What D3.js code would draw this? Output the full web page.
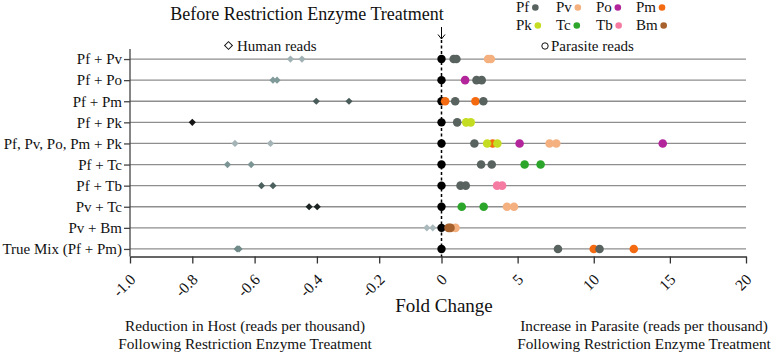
<!DOCTYPE html>
<html>
<head>
<meta charset="utf-8">
<script src="https://cdn.jsdelivr.net/npm/d3@7"></script>
<style>
  body { margin: 0; background: #fff; }
  svg { font-family: "Liberation Serif", "Times New Roman", serif; }
</style>
</head>
<body>
<svg id="chart" width="778" height="353"></svg>
<script>
const categories = ["Pf + Pv", "Pf + Po", "Pf + Pm", "Pf + Pk", "Pf, Pv, Po, Pm + Pk",
                    "Pf + Tc", "Pf + Tb", "Pv + Tc", "Pv + Bm", "True Mix (Pf + Pm)"];

// fold change in human reads (negative side)
const humanReads = [
    [-0.485, -0.448], [-0.541, -0.528], [-0.402, -0.297], [-0.80],
    [-0.663, -0.549], [-0.687, -0.611], [-0.578, -0.541], [-0.425, -0.399],
    [-0.047, -0.028], [-0.656, -0.650]
];

// fold change in parasite reads, per species
const parasiteReads = [
    [["Pf", 0.8], ["Pf", 0.98], ["Pv", 3.06], ["Pv", 3.24]],
    [["Po", 1.55], ["Pf", 2.3], ["Pf", 2.64]],
    [["Pm", 0.24], ["Pf", 0.9], ["Pm", 2.23], ["Pf", 2.75]],
    [["Pf", 1.03], ["Pk", 1.62], ["Pk", 1.92]],
    [["Pf", 2.16], ["Pm", 3.36], ["Pk", 3.0], ["Pk", 3.67], ["Po", 5.13], ["Pv", 7.1], ["Pv", 7.54], ["Po", 14.53]],
    [["Pf", 2.6], ["Pf", 3.3], ["Tc", 5.46], ["Tc", 6.51]],
    [["Pf", 1.25], ["Pf", 1.59], ["Tb", 3.65], ["Tb", 3.98]],
    [["Tc", 1.33], ["Tc", 2.77], ["Pv", 4.3], ["Pv", 4.76]],
    [["Pv", 0.92], ["Bm", 0.46], ["Bm", 0.59]],
    [["Pf", 7.65], ["Pm", 10.0], ["Pf", 10.38], ["Pm", 12.63]]
];

const species = ["Pf", "Pv", "Po", "Pm", "Pk", "Tc", "Tb", "Bm"];
const speciesColors = ["#58625f", "#f4b07e", "#b2259b", "#f46a10", "#c4dc22", "#2ba52a", "#f57ba2", "#a7612c"];
const humanShades = ["#a0b1b4", "#809a9a", "#4a5c59", "#151515", "#a4b4b6",
                     "#7c9594", "#4c615e", "#1c2424", "#aab9bc", "#6f8a88"];

const tickValues = [-1.0, -0.8, -0.6, -0.4, -0.2, 0, 5, 10, 15, 20];
const tickLabels = ["-1.0", "-0.8", "-0.6", "-0.4", "-0.2", "0", "5", "10", "15", "20"];

const svg = d3.select("#chart");

const x = d3.scaleLinear().domain([-1, 0, 20]).range([130, 441.5, 746]);
const y = d3.scalePoint().domain(categories).range([48.5, 259.5]).padding(0.5);
const axisY = 256.5;
const color = d3.scaleOrdinal().domain(species).range(speciesColors);

// gridlines per row
svg.append("g").selectAll("line")
    .data(categories)
    .join("line")
    .attr("x1", x(-1)).attr("x2", x(20))
    .attr("y1", d => y(d)).attr("y2", d => y(d))
    .attr("stroke", "#8e8e8e")
    .attr("stroke-width", 1.3);

// left axis
const yAxis = svg.append("g")
    .attr("transform", `translate(${x(-1)},0)`)
    .call(d3.axisLeft(y).tickSize(6).tickSizeOuter(0));
yAxis.select(".domain").remove();
yAxis.append("line")
    .attr("y1", 49).attr("y2", axisY)
    .attr("stroke", "#444").attr("stroke-width", 1.3);
yAxis.selectAll(".tick line").attr("stroke", "#444").attr("stroke-width", 1.3);
yAxis.selectAll("text")
    .attr("x", -8)
    .style("font-size", "15px")
    .style("font-family", "Liberation Serif")
    .attr("fill", "#111");

// bottom axis
const xAxis = svg.append("g")
    .attr("transform", `translate(0,${axisY})`)
    .call(d3.axisBottom(x).tickValues(tickValues).tickSize(7).tickSizeOuter(0)
        .tickFormat((d, i) => tickLabels[i]));
xAxis.select(".domain").attr("stroke", "#333").attr("stroke-width", 1.3);
xAxis.selectAll(".tick line").attr("stroke", "#333").attr("stroke-width", 1.3);
xAxis.selectAll("text")
    .attr("y", 0).attr("dy", 0)
    .attr("text-anchor", "end")
    .attr("transform", "translate(6,24) rotate(-45)")
    .style("font-size", "15.5px")
    .style("font-family", "Liberation Serif")
    .attr("fill", "#111");

// dashed zero line and arrow
svg.append("line")
    .attr("x1", x(0)).attr("x2", x(0))
    .attr("y1", 40).attr("y2", axisY)
    .attr("stroke", "#000").attr("stroke-width", 1.5)
    .attr("stroke-dasharray", "3,2.5");
svg.append("path")
    .attr("d", `M${x(0)},27V39M${x(0) - 3.5},34.5L${x(0)},39L${x(0) + 3.5},34.5`)
    .attr("fill", "none").attr("stroke", "#000").attr("stroke-width", 1);

// human reads diamonds
const diamond = d3.symbol().type(d3.symbolSquare).size(26);
categories.forEach((cat, i) => {
    svg.append("g").selectAll("path")
        .data(humanReads[i])
        .join("path")
        .attr("d", diamond)
        .attr("transform", d => `translate(${x(d)},${y(cat)}) rotate(45)`)
        .attr("fill", humanShades[i]);
});

// before-treatment reference points at zero
svg.append("g").selectAll("circle")
    .data(categories)
    .join("circle")
    .attr("cx", x(0)).attr("cy", d => y(d))
    .attr("r", 4.2).attr("fill", "#000");

// parasite reads dots
categories.forEach((cat, i) => {
    svg.append("g").selectAll("circle")
        .data(parasiteReads[i])
        .join("circle")
        .attr("cx", d => x(d[1]))
        .attr("cy", y(cat))
        .attr("r", 4.3)
        .attr("fill", d => color(d[0]));
});

// title
svg.append("text")
    .attr("x", 307).attr("y", 20)
    .attr("text-anchor", "middle")
    .style("font-size", "18px")
    .attr("fill", "#111")
    .text("Before Restriction Enzyme Treatment");

// species legend
const legendCols = [516, 556, 596, 636];
species.forEach((s, i) => {
    const gx = legendCols[i % 4], gy = i < 4 ? 12 : 30;
    const t = svg.append("text")
        .attr("x", gx).attr("y", gy)
        .style("font-size", "15px")
        .attr("fill", "#111")
        .text(s);
    const w = t.node().getComputedTextLength();
    svg.append("circle")
        .attr("cx", gx + w + 6).attr("cy", gy - 4.5)
        .attr("r", 3.3)
        .attr("fill", color(s));
});

// reads legend
svg.append("path")
    .attr("d", d3.symbol().type(d3.symbolSquare).size(30))
    .attr("transform", "translate(228.5,45.5) rotate(45)")
    .attr("fill", "none").attr("stroke", "#111").attr("stroke-width", 1);
svg.append("text")
    .attr("x", 237).attr("y", 51)
    .style("font-size", "15px").attr("fill", "#111")
    .text("Human reads");
svg.append("circle")
    .attr("cx", 545).attr("cy", 46).attr("r", 3.2)
    .attr("fill", "none").attr("stroke", "#111").attr("stroke-width", 1);
svg.append("text")
    .attr("x", 551).attr("y", 51)
    .style("font-size", "15px").attr("fill", "#111")
    .text("Parasite reads");

// axis title and notes
svg.append("text")
    .attr("x", 444).attr("y", 312)
    .attr("text-anchor", "middle")
    .style("font-size", "19px").attr("fill", "#111")
    .text("Fold Change");

const notes = [
    { x: 245, lines: ["Reduction in Host (reads per thousand)", "Following Restriction Enzyme Treatment"] },
    { x: 644, lines: ["Increase in Parasite (reads per thousand)", "Following Restriction Enzyme Treatment"] }
];
notes.forEach(n => {
    n.lines.forEach((l, j) => {
        svg.append("text")
            .attr("x", n.x).attr("y", 331 + j * 18)
            .attr("text-anchor", "middle")
            .style("font-size", "15.3px").attr("fill", "#111")
            .text(l);
    });
});
</script>
</body>
</html>
